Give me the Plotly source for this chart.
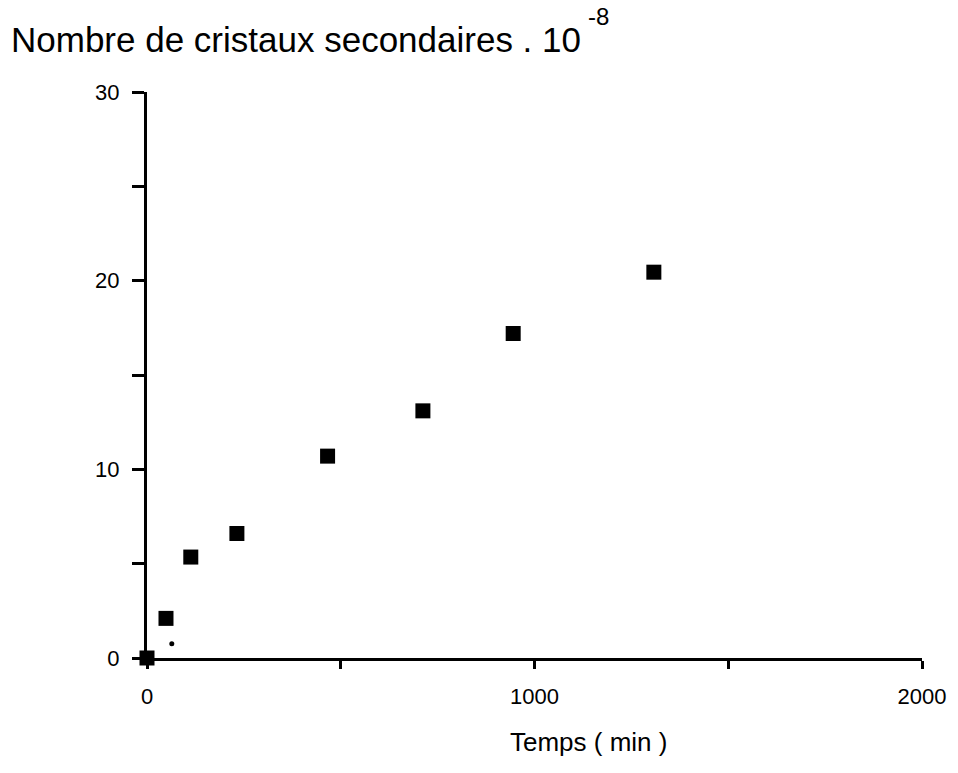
import plotly.graph_objects as go

# Temps (min) et nombre de cristaux secondaires (x 1e-8)
temps = [0, 49, 113, 232, 466, 712, 945, 1308]
cristaux = [0.0, 2.1, 5.35, 6.6, 10.7, 13.1, 17.2, 20.45]

# point isolé près de l'origine
temps_pt = [64]
cristaux_pt = [0.75]

x_ticks = [0, 500, 1000, 1500, 2000]
x_labels = ["0", "", "1000", "", "2000"]
y_ticks = [0, 5, 10, 15, 20, 25, 30]
y_labels = ["0", "", "10", "", "20", "", "30"]

FONT = "Liberation Sans, Arial, Helvetica, sans-serif"

# zone de tracé en pixels
L, R, T, B = 147, 33, 92, 115
PW, PH = 958 - L - R, 773 - T - B


def px(x):
    return (x - L) / PW


def py(y):
    return (773 - B - y) / PH


fig = go.Figure()
fig.add_trace(go.Scatter(
    x=temps, y=cristaux, mode="markers",
    marker=dict(symbol="square", size=15, color="black", line=dict(width=0)),
    cliponaxis=False, showlegend=False,
))
fig.add_trace(go.Scatter(
    x=temps_pt, y=cristaux_pt, mode="markers",
    marker=dict(symbol="circle", size=5, color="black", line=dict(width=0)),
    cliponaxis=False, showlegend=False,
))

fig.update_layout(
    width=958, height=773,
    margin=dict(l=L, r=R, t=T, b=B),
    plot_bgcolor="white", paper_bgcolor="white",
    font=dict(family=FONT, color="black", size=22),
    xaxis=dict(
        range=[0, 2000], showgrid=False, zeroline=False,
        showline=True, linecolor="black", linewidth=3,
        tickmode="array", tickvals=x_ticks, ticktext=x_labels,
        ticks="outside", ticklen=8, tickwidth=3, tickcolor="black",
        tickfont=dict(size=22, family=FONT), ticklabelstandoff=9,
    ),
    yaxis=dict(
        range=[0, 30], showgrid=False, zeroline=False,
        showline=True, linecolor="black", linewidth=3,
        tickmode="array", tickvals=y_ticks, ticktext=y_labels,
        ticks="outside", ticklen=12, tickwidth=3, tickcolor="black",
        tickfont=dict(size=22, family=FONT), ticklabelstandoff=8,
    ),
    annotations=[
        dict(text="Nombre de cristaux secondaires . 10", xref="paper", yref="paper",
             x=px(8), y=py(39), xanchor="left", yanchor="middle",
             showarrow=False, font=dict(size=35, family=FONT)),
        dict(text="-8", xref="paper", yref="paper",
             x=px(588), y=py(1), xanchor="left", yanchor="top",
             showarrow=False, font=dict(size=24, family=FONT)),
        dict(text="Temps ( min )", xref="paper", yref="paper",
             x=px(590), y=py(742), xanchor="center", yanchor="middle",
             showarrow=False, font=dict(size=26, family=FONT)),
    ],
)

fig.write_html("out.html")
